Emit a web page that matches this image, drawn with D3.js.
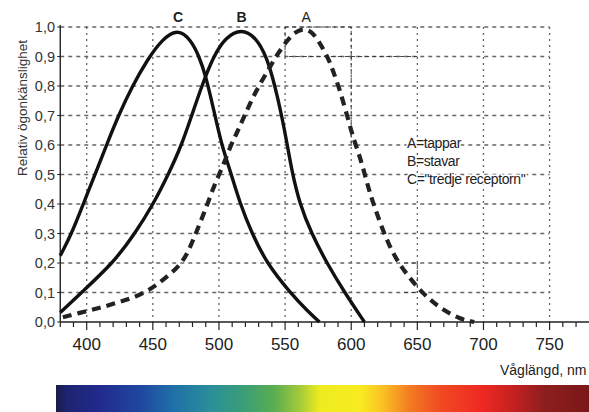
<!DOCTYPE html>
<html>
<head>
<meta charset="utf-8">
<script src="https://cdn.jsdelivr.net/npm/d3@7"></script>
<style>
  body { margin: 0; background: #fff; }
  svg { display: block; font-family: "Liberation Sans", Arial, sans-serif; }
</style>
</head>
<body>
<svg id="chart" width="589" height="412"></svg>
<script>
// curve A (tappar), dashed
const nmA = [382, 399, 411, 424, 436.5, 449, 459, 470.5, 477, 482, 487, 492, 497, 503, 508, 513.4, 518.4,
  523.5, 529.8, 537.3, 543.7, 551.2, 557, 564, 570, 575, 582.6, 586.4, 591.5, 597.8, 601.6, 606.6, 610.4,
  614.2, 618, 623, 628, 634.4, 642, 650.7, 659.5, 669.6, 682, 693];
const valA = [0.016, 0.036, 0.049, 0.067, 0.084, 0.112, 0.148, 0.19, 0.24, 0.295, 0.35, 0.408, 0.47, 0.528,
  0.589, 0.64, 0.69, 0.741, 0.798, 0.854, 0.905, 0.952, 0.982, 0.995, 0.985, 0.955, 0.896, 0.849, 0.786, 0.685,
  0.623, 0.56, 0.498, 0.436, 0.385, 0.323, 0.267, 0.21, 0.162, 0.114, 0.075, 0.041, 0.01, 0];
// curve B (stavar)
const nmB = [380, 396, 420, 436.5, 450.4, 461.7, 471.8, 479.4, 487, 495.7, 505, 517, 528, 536, 542.4, 547.4,
  551.7, 555, 561, 570, 581.5, 595, 610];
const valB = [0.032, 0.1, 0.2, 0.3, 0.4, 0.5, 0.6, 0.7, 0.8, 0.9, 0.965, 0.995, 0.965, 0.9, 0.8, 0.7,
  0.6, 0.515, 0.4, 0.3, 0.2, 0.1, 0];
// curve C ("tredje receptorn")
const nmC = [380, 388.7, 397.4, 407.6, 415, 424, 434.5, 446, 457, 469, 479, 485, 490, 496, 502, 508,
  516, 525, 536, 553.7, 567.5, 576];
const valC = [0.225, 0.3, 0.4, 0.515, 0.6, 0.7, 0.8, 0.89, 0.958, 0.995, 0.955, 0.9, 0.835, 0.72, 0.6, 0.52,
  0.4, 0.3, 0.2, 0.1, 0.035, 0];

const xTicks = [400, 450, 500, 550, 600, 650, 700, 750];
const yTicks = [0, 0.1, 0.2, 0.3, 0.4, 0.5, 0.6, 0.7, 0.8, 0.9, 1.0];
const legendLines = ["A=tappar", "B=stavar", "C=\"tredje receptorn\""];
const peakLabels = [
  { name: "C", nm: 469, bold: true },
  { name: "B", nm: 517, bold: true },
  { name: "A", nm: 566, bold: false }
];
const spectrumStops = [
  ["#1b1b45", 0], ["#1e2470", 0.02], ["#212a8c", 0.08], ["#1f48a0", 0.16], ["#1f70a8", 0.22],
  ["#2a8f9a", 0.29], ["#3a9d78", 0.35], ["#5aae50", 0.41], ["#a8cc38", 0.46], ["#eeec20", 0.495],
  ["#f8ec20", 0.57], ["#fbc424", 0.61], ["#f37a22", 0.665], ["#f04b22", 0.72], ["#f02a22", 0.795],
  ["#c42020", 0.86], ["#8e1e1e", 0.915], ["#7a1818", 1]
];

const svg = d3.select("#chart");
const x = d3.scaleLinear().domain([400, 750]).range([86.7, 549.6]);
const y = d3.scaleLinear().domain([0, 1]).range([322, 27]);
const xMin = 380, xEnd = x.invert(589);

// grid
const grid = svg.append("g").attr("stroke", "#666").attr("stroke-width", 1.3).attr("fill", "none");
grid.selectAll(".h").data(yTicks.slice(1)).join("line")
  .attr("x1", x(xMin)).attr("x2", x(750))
  .attr("y1", d => y(d)).attr("y2", d => y(d))
  .attr("stroke-dasharray", "4,4");
grid.selectAll(".v").data(xTicks).join("line")
  .attr("x1", d => x(d)).attr("x2", d => x(d))
  .attr("y1", y(1)).attr("y2", y(0))
  .attr("stroke-dasharray", "2,4");

// thin reading lines round the A peak
const thin = svg.append("g").attr("stroke", "#333").attr("stroke-width", 0.9)
  .attr("fill", "none").attr("stroke-dasharray", "4,3");
thin.append("rect")
  .attr("x", x(550)).attr("y", y(1))
  .attr("width", x(600) - x(550)).attr("height", y(0.9) - y(1));
thin.append("line").attr("x1", x(600)).attr("x2", x(650)).attr("y1", y(0.9)).attr("y2", y(0.9));
thin.append("line").attr("x1", x(600)).attr("x2", x(600)).attr("y1", y(0.9)).attr("y2", y(0.6));
thin.append("line").attr("x1", x(640)).attr("x2", x(650)).attr("y1", y(0.2)).attr("y2", y(0.2));
thin.append("line").attr("x1", x(640)).attr("x2", x(650)).attr("y1", y(0.1)).attr("y2", y(0.1));
thin.append("line").attr("x1", x(650)).attr("x2", x(650)).attr("y1", y(0.2)).attr("y2", y(0.1));

// axes
const axis = svg.append("g").attr("stroke", "#222");
axis.append("line").attr("x1", x(xMin)).attr("x2", 589).attr("y1", y(0)).attr("y2", y(0)).attr("stroke-width", 1.6);
axis.append("line").attr("x1", x(xMin)).attr("x2", x(xMin)).attr("y1", y(1) - 2).attr("y2", y(0)).attr("stroke-width", 1.4);
axis.selectAll(".mt").data(d3.range(380, Math.floor(xEnd) + 1, 10)).join("line")
  .attr("x1", d => x(d)).attr("x2", d => x(d))
  .attr("y1", y(0)).attr("y2", d => y(0) + (d % 50 === 0 ? 8 : 5))
  .attr("stroke-width", 1.2);
axis.selectAll(".yt").data(yTicks).join("line")
  .attr("x1", x(xMin) - 3).attr("x2", x(xMin))
  .attr("y1", d => y(d)).attr("y2", d => y(d))
  .attr("stroke-width", 1);

svg.append("g").selectAll("text").data(xTicks).join("text")
  .attr("x", d => x(d)).attr("y", 350)
  .attr("text-anchor", "middle").attr("font-size", 17).attr("fill", "#222")
  .text(d => d);
svg.append("g").selectAll("text").data(yTicks).join("text")
  .attr("x", 55).attr("y", d => y(d) + 5)
  .attr("text-anchor", "end").attr("font-size", 14.5).attr("fill", "#333")
  .text(d => d.toFixed(1).replace(".", ","));

svg.append("text")
  .attr("transform", "translate(27,108) rotate(-90)")
  .attr("text-anchor", "middle").attr("font-size", 13.5).attr("fill", "#333")
  .text("Relativ ögonkänslighet");
svg.append("text")
  .attr("x", 500).attr("y", 375).attr("font-size", 14).attr("fill", "#222")
  .text("Våglängd, nm");

// curves
const line = d3.line().x(d => x(d[0])).y(d => y(d[1])).curve(d3.curveBasis);
svg.append("path").datum(d3.zip(nmC, valC)).attr("d", line)
  .attr("fill", "none").attr("stroke", "#111").attr("stroke-width", 3.4);
svg.append("path").datum(d3.zip(nmB, valB)).attr("d", line)
  .attr("fill", "none").attr("stroke", "#111").attr("stroke-width", 3.4);
svg.append("path").datum(d3.zip(nmA, valA)).attr("d", line)
  .attr("fill", "none").attr("stroke", "#222").attr("stroke-width", 4.2)
  .attr("stroke-dasharray", "9,6");

svg.append("g").selectAll("text").data(peakLabels).join("text")
  .attr("x", d => x(d.nm)).attr("y", 22)
  .attr("text-anchor", "middle").attr("font-size", 14)
  .attr("font-weight", d => d.bold ? "bold" : "normal").attr("fill", "#222")
  .text(d => d.name);

svg.append("g").selectAll("text").data(legendLines).join("text")
  .attr("x", 407).attr("y", (d, i) => 148 + i * 18)
  .attr("font-size", 14).attr("letter-spacing", -0.4).attr("fill", "#222")
  .attr("paint-order", "stroke").attr("stroke", "#fff").attr("stroke-width", 3)
  .text(d => d);

// spectrum bar
const grad = svg.append("defs").append("linearGradient").attr("id", "spectrum");
grad.selectAll("stop").data(spectrumStops).join("stop")
  .attr("offset", d => d[1]).attr("stop-color", d => d[0]);
svg.append("rect").attr("x", 56).attr("y", 385).attr("width", 589 - 56).attr("height", 27)
  .attr("fill", "url(#spectrum)");
</script>
</body>
</html>
